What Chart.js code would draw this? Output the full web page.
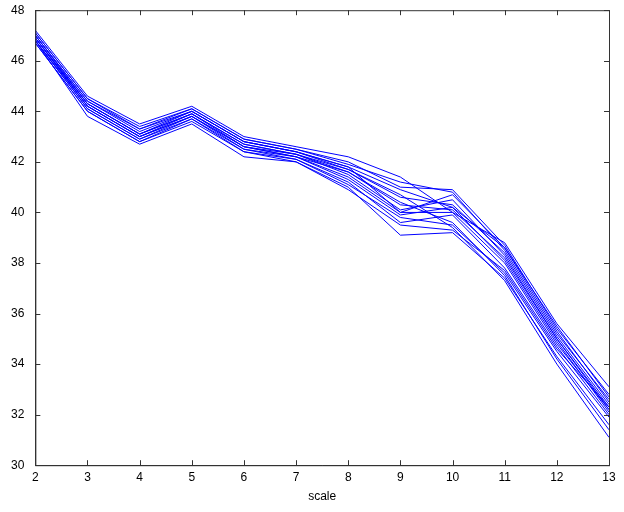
<!DOCTYPE html>
<html><head><meta charset="utf-8">
<script src="https://cdn.jsdelivr.net/npm/chart.js@4/dist/chart.umd.min.js"></script>
<style>html,body{margin:0;background:#fff}#w{width:624px;height:512px}</style>
</head><body><div id="w"><canvas id="c"></canvas></div>
<script>
const scales = [2,3,4,5,6,7,8,9,10,11,12,13];
const s01=[47.2,44.6,43.5,44.2,43.0,42.6,42.2,41.4,40.0,38.8,35.6,33.1];
const s02=[47.1,44.5,43.4,44.1,42.9,42.5,42.0,41.0,40.9,38.7,35.4,32.8];
const s03=[47.0,44.4,43.3,44.1,42.9,42.5,41.9,41.2,40.8,38.5,35.2,32.6];
const s04=[47.0,44.4,43.2,44.0,42.8,42.4,41.8,40.9,40.2,38.6,35.3,32.5];
const s05=[46.9,44.3,43.1,44.0,42.8,42.4,41.7,40.6,40.3,38.4,35.1,32.4];
const s06=[46.9,44.3,43.1,43.9,42.7,42.3,41.6,40.3,40.1,38.2,35.0,32.3];
const s07=[46.9,44.2,43.0,43.9,42.7,42.3,41.5,40.1,40.5,38.3,35.0,32.2];
const s08=[46.8,44.2,43.0,43.8,42.6,42.2,41.4,40.0,40.0,38.0,34.8,32.2];
const s09=[46.8,44.1,42.9,43.8,42.6,42.2,41.3,39.9,40.2,38.1,34.9,32.1];
const s10=[46.8,44.1,42.9,43.7,42.5,42.1,41.2,39.6,39.9,37.8,34.7,32.0];
const s11=[46.7,44.0,42.8,43.7,42.4,42.1,41.1,39.8,39.5,37.6,34.5,31.9];
const s12=[46.7,44.0,42.8,43.6,42.4,42.0,41.0,39.1,39.2,37.4,34.3,31.6];
const s13=[46.9,44.2,43.0,43.8,42.5,42.2,41.6,40.4,39.6,37.5,34.2,31.4];
const s14=[47.0,44.3,43.1,43.9,42.6,42.3,41.7,40.7,39.4,37.3,34.0,31.1];
const s15=[46.8,43.8,42.7,43.5,42.2,42.0,40.9,39.5,39.3,37.7,34.6,32.3];
const s16=[47.1,44.5,43.3,44.0,42.8,42.4,41.8,40.0,40.7,38.6,35.5,32.7];
const series=[s01,s02,s03,s04,s05,s06,s07,s08,s09,s10,s11,s12,s13,s14,s15,s16];
const yTicks=[30,32,34,36,38,40,42,44,46,48];
const frame={id:'frame',afterDraw(c){const a=c.chartArea,x=c.ctx,sx=c.scales.x,sy=c.scales.y;x.save();x.strokeStyle='#333';x.lineWidth=1;
x.strokeRect(a.left+0.5,a.top+0.5,a.right-a.left,a.bottom-a.top);
x.beginPath();
sx.ticks.forEach(t=>{const p=Math.round(sx.getPixelForValue(t.value))+0.5;x.moveTo(p,a.bottom);x.lineTo(p,a.bottom-5);x.moveTo(p,a.top);x.lineTo(p,a.top+5);});
sy.ticks.forEach(t=>{const p=Math.round(sy.getPixelForValue(t.value))+0.5;x.moveTo(a.left,p);x.lineTo(a.left+5,p);x.moveTo(a.right,p);x.lineTo(a.right-5,p);});
x.stroke();x.restore();}};
new Chart(document.getElementById('c'),{type:'line',
data:{labels:scales,datasets:series.map(s=>({data:s,borderColor:'#0000ff',borderWidth:1,pointRadius:0,tension:0,fill:false}))},
options:{responsive:true,maintainAspectRatio:false,animation:false,
layout:{padding:{top:8,right:15,left:8,bottom:4}},
plugins:{legend:{display:false},tooltip:{enabled:false}},
scales:{
x:{type:'linear',min:2,max:13,offset:false,grid:{display:false,drawTicks:false},border:{color:'#333'},
 ticks:{stepSize:1,padding:5,color:'#000',font:{family:'Liberation Sans',size:12}},
 title:{display:true,text:'scale',color:'#000',font:{family:'Liberation Sans',size:12},padding:{top:0}}},
y:{min:30,max:48,grid:{display:false},border:{color:'#333'},
 afterBuildTicks(ax){ax.ticks=yTicks.map(v=>({value:v}));},
 ticks:{color:'#000',font:{family:'Liberation Sans',size:12}}}
}},plugins:[frame]});
</script></body></html>
